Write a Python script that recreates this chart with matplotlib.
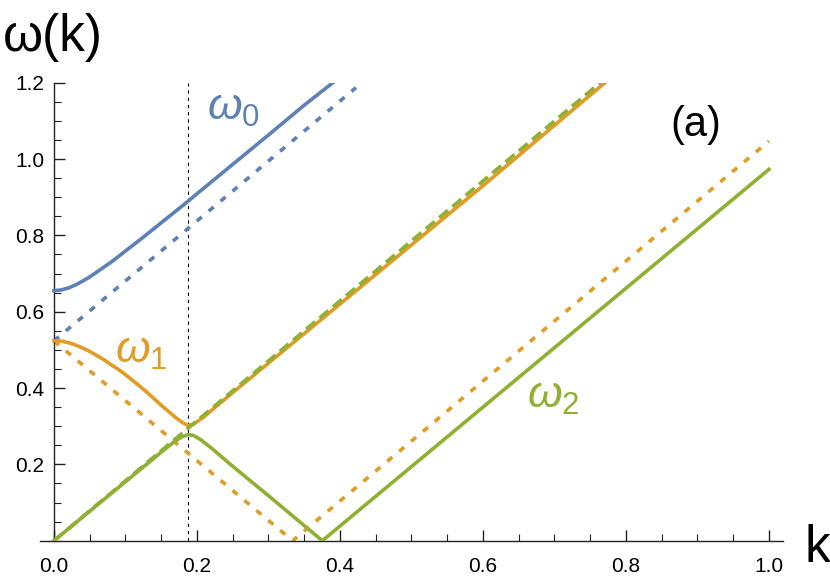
import matplotlib
matplotlib.use("Agg")
import matplotlib.pyplot as plt
from matplotlib.ticker import MultipleLocator, FixedLocator

plt.rcParams["font.family"] = ["Liberation Sans", "DejaVu Sans"]
plt.rcParams["mathtext.fontset"] = "custom"
plt.rcParams["mathtext.rm"] = "Liberation Sans"
plt.rcParams["mathtext.it"] = "Liberation Sans:italic"

BLUE = "#5e81b5"
ORANGE = "#e19c24"
GREEN = "#8fb032"

# omega_0 branch (solid) and its bare line (dotted)
k0 = [0.0, 0.01, 0.02, 0.03, 0.04, 0.05, 0.06, 0.07, 0.08, 0.10, 0.12, 0.14, 0.16, 0.18,
      0.20, 0.25, 0.30, 0.35, 0.39]
w0 = [0.655, 0.657, 0.662, 0.670, 0.680, 0.691, 0.704, 0.717, 0.730, 0.759, 0.788, 0.818,
      0.848, 0.878, 0.909, 0.986, 1.063, 1.141, 1.200]
k0_bare = [0.0, 0.4224]
w0_bare = [0.5236, 1.187]

# omega_1 branch
k1 = [0.0, 0.01, 0.02, 0.03, 0.04, 0.05, 0.06, 0.07, 0.08, 0.09, 0.10, 0.11, 0.12, 0.13,
      0.14, 0.15, 0.16, 0.17, 0.18, 0.1875, 0.195, 0.21, 0.25, 0.40, 0.60, 0.7706]
w1 = [0.524, 0.523, 0.519, 0.513, 0.505, 0.496, 0.485, 0.474, 0.461, 0.449, 0.435, 0.420,
      0.405, 0.389, 0.372, 0.355, 0.339, 0.323, 0.309, 0.302, 0.305, 0.325, 0.388, 0.620,
      0.930, 1.200]
k1_bare = [0.0, 0.3338, 1.0]
w1_bare = [0.5236, 0.0, 1.047]

# omega_2 branch
k2 = [0.0, 0.15, 0.17, 0.18, 0.1875, 0.195, 0.205, 0.22, 0.25, 0.30, 0.3753, 1.0]
w2 = [0.0, 0.232, 0.262, 0.273, 0.278, 0.276, 0.265, 0.243, 0.195, 0.118, 0.0, 0.973]
k2_bare = [0.0, 0.764]
w2_bare = [0.0, 1.2]

k_cross = 0.1875

x_ticks = [0.0, 0.2, 0.4, 0.6, 0.8, 1.0]
y_ticks = [0.2, 0.4, 0.6, 0.8, 1.0, 1.2]

fig = plt.figure(figsize=(8.3, 5.79), dpi=100)
ax = fig.add_axes([0.0478, 0.0661, 0.8959, 0.7911])

lw = 2.6
dot = dict(linestyle=(0, (1.8, 2.5)), dash_capstyle="butt", lw=lw)

ax.plot([k_cross, k_cross], [0, 1.2], color="black", lw=0.8,
        linestyle=(0, (3, 3.5)), zorder=1)

ax.plot(k0_bare, w0_bare, color=BLUE, **dot, zorder=2)
ax.plot(k1_bare, w1_bare, color=ORANGE, **dot, zorder=2)
ax.plot(k0, w0, color=BLUE, lw=lw, zorder=3)
ax.plot(k2, w2, color=GREEN, lw=lw, zorder=3)
ax.plot(k1, w1, color=ORANGE, lw=lw, zorder=3)
ax.plot(k2_bare, w2_bare, color=GREEN, lw=lw, linestyle=(0, (3.2, 1.6)),
        dash_capstyle="butt", zorder=4)

ax.set_xlim(-0.02, 1.02)
ax.set_ylim(0, 1.2)

for s in ["top", "right"]:
    ax.spines[s].set_visible(False)
ax.spines["left"].set_position(("data", 0))
ax.spines["left"].set_bounds(0, 1.2)
ax.spines["bottom"].set_position(("data", 0))
for s in ["left", "bottom"]:
    ax.spines[s].set_linewidth(1.0)
    ax.spines[s].set_color("#222222")

ax.xaxis.set_major_locator(FixedLocator(x_ticks))
ax.yaxis.set_major_locator(FixedLocator(y_ticks))
ax.xaxis.set_minor_locator(MultipleLocator(0.05))
ax.yaxis.set_minor_locator(MultipleLocator(0.05))
ax.set_xticklabels([f"{t:.1f}" for t in x_ticks])
ax.set_yticklabels([f"{t:.1f}" for t in y_ticks])
ax.tick_params(which="major", direction="in", length=8, width=1, color="#222222",
               labelsize=15, pad=12)
ax.tick_params(which="minor", direction="in", length=5, width=0.8, color="#222222")
ax.tick_params(axis="y", pad=7)

ax.text(0.214, 1.102, r"$\omega_0$", color=BLUE, fontsize=32, ha="left", va="baseline")
ax.text(0.085, 0.466, r"$\omega_1$", color=ORANGE, fontsize=32, ha="left", va="baseline")
ax.text(0.6615, 0.348, r"$\omega_2$", color=GREEN, fontsize=32, ha="left", va="baseline")
ax.text(0.898, 1.089, "(a)", fontsize=30, ha="center", va="center")

fig.text(53 / 830, 1 - 38 / 579, "ω(k)", fontsize=37, ha="center", va="center")
fig.text(817 / 830, 1 - 562 / 579, "k", fontsize=37, ha="center", va="baseline")

fig.savefig("out.png", dpi=100)
